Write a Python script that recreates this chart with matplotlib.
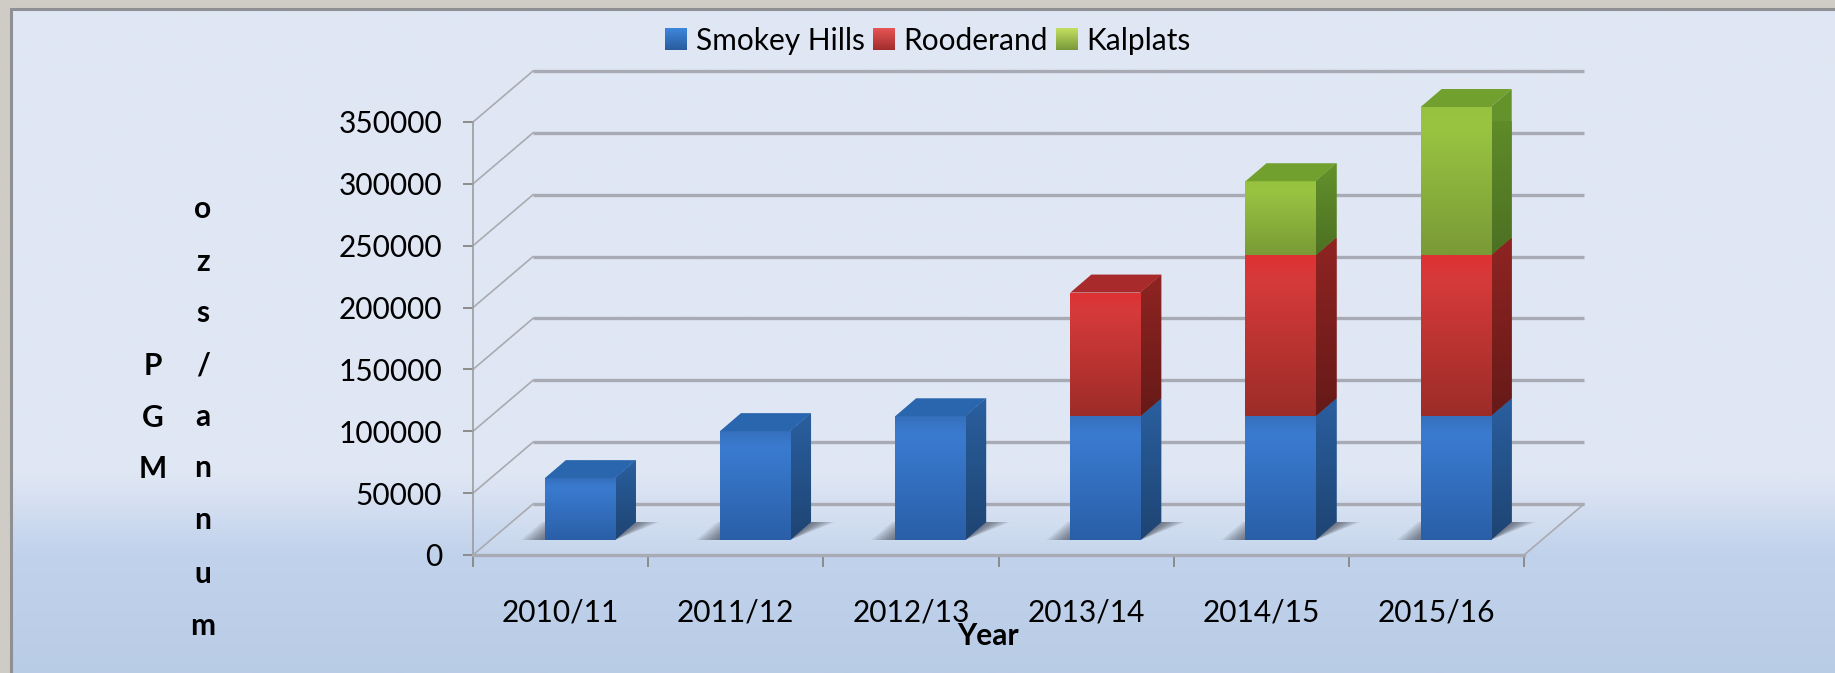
import numpy as np
import matplotlib
matplotlib.use("Agg")
import matplotlib.pyplot as plt
from matplotlib.colors import to_rgb
from matplotlib.patches import Polygon, Patch

years = ["2010/11", "2011/12", "2012/13", "2013/14", "2014/15", "2015/16"]
smokey_hills = [50000, 88000, 100000, 100000, 100000, 100000]
rooderand = [0, 0, 0, 100000, 130000, 130000]
kalplats = [0, 0, 0, 0, 60000, 120000]
y_ticks = [0, 50000, 100000, 150000, 200000, 250000, 300000, 350000]

W, H = 1835, 673
# plot box of the front plane, in pixels
LEFT, RIGHT, TOP, BOTTOM = 473, 1524, 122, 555
PX_X = (RIGHT - LEFT) / len(years)
PX_Y = (BOTTOM - TOP) / 350000

# how far the 3d effect moves things, in pixels
WALL_DX, WALL_DY = 60, 51
BAR_DX, BAR_DY = 21, 18
BASE_DY = 15
BAR_SHIFT = 0.11
BAR_WIDTH = 0.4
TEXT_SIZE = 21.5

series = [
    ("Smokey Hills", smokey_hills, ["#3670BD", "#3A7BD0", "#2A5FA8"], "#2966AE", ["#2A5F9F", "#1E4472"], ["#3E86DC", "#2A5C9E"]),
    ("Rooderand", rooderand, ["#DE3133", "#D63A3A", "#9C2C28"], "#A92A2A", ["#8F2422", "#661A18"], ["#E85555", "#A02E2C"]),
    ("Kalplats", kalplats, ["#96C240", "#98C441", "#7A9A36"], "#72A02E", ["#64922B", "#4C7022"], ["#C4E060", "#78993A"]),
]


def shift(x, y, dx=0, dy=0):
    return x + dx / PX_X, y + dy / PX_Y


def gradient(colors, stops=None, n=128):
    rgb = np.array([to_rgb(c) for c in colors])
    if stops is None:
        stops = np.linspace(0, 1, len(colors))
    t = np.linspace(0, 1, n)
    return np.stack([np.interp(t, stops, rgb[:, i]) for i in range(3)], axis=1)[:, None, :]


def fill_gradient(ax, patch, colors, stops=None, zorder=3):
    ext = patch.get_path().transformed(patch.get_patch_transform()).get_extents()
    im = ax.imshow(gradient(colors, stops), extent=[ext.x0, ext.x1, ext.y0, ext.y1], origin="upper",
                   aspect="auto", zorder=zorder, interpolation="bilinear")
    im.set_clip_box(None)
    im.set_clip_path(patch)


plt.rcParams["font.family"] = ["Lato", "DejaVu Sans"]
fig = plt.figure(figsize=(W / 100, H / 100), dpi=100)

# page background and the panel
bg = fig.add_axes([0, 0, 1, 1], zorder=0)
bg.axis("off")
fig.patch.set_facecolor("#CFCCC6")
panel = gradient(["#E0E7F4", "#E0E7F4", "#C1D2EC", "#B9CCE6"], [0, 0.70, 0.82, 1], n=300)
bg.imshow(panel, extent=[12, W, H, 10], aspect="auto", zorder=1, interpolation="bilinear")
bg.plot([11, 11, W], [H, 9, 9], color="#8F9094", lw=2.2, zorder=2, solid_joinstyle="miter")
bg.set_xlim(0, W)
bg.set_ylim(H, 0)

ax = fig.add_axes([LEFT / W, 1 - BOTTOM / H, (RIGHT - LEFT) / W, (BOTTOM - TOP) / H], zorder=1)
ax.patch.set_alpha(0)
n = len(years)

# floor
floor = Polygon([(0, 0), (n, 0), shift(n, 0, WALL_DX, WALL_DY), shift(0, 0, WALL_DX, WALL_DY)],
                closed=True, facecolor="#FFFFFF", alpha=0.1, edgecolor="none", zorder=1, clip_on=False)
ax.add_patch(floor)

# gridlines: back wall and left wall
for v in y_ticks:
    bx, by = shift(0, v, WALL_DX, WALL_DY)
    ex, ey = shift(n, v, WALL_DX, WALL_DY)
    ax.plot([bx, ex], [by, ey], color="#A8ABB3", lw=2.4, zorder=1.5, clip_on=False, solid_capstyle="butt")
    ax.plot([0, bx], [v, by], color="#A9ABB0", lw=1.2, zorder=1.5, clip_on=False)
fx, fy = shift(n, 0, WALL_DX, WALL_DY)
ax.plot([n, fx], [0, fy], color="#A9ABB0", lw=1.2, zorder=1.5, clip_on=False)

# bars
centers = np.arange(n) + 0.5 + BAR_SHIFT
base = BASE_DY / PX_Y
half = BAR_WIDTH / 2

# shadows on the floor, stacked thin layers so the edges fade
for c in centers:
    for grow in range(24, 0, -2):
        g = grow / PX_X
        sh = Polygon([(c - half - g, base), (c + half, base), shift(c + half, base, BAR_DX + grow, BAR_DY),
                      shift(c - half - g, base, BAR_DX, BAR_DY)],
                     closed=True, facecolor="#3A3F4A", alpha=0.075, edgecolor="none", zorder=2, clip_on=False)
        ax.add_patch(sh)

totals = np.sum([smokey_hills, rooderand, kalplats], axis=0)
bottoms = np.zeros(n)
handles = []
for name, values, front, top, side, swatch in series:
    values = np.array(values, dtype=float)
    bars = ax.bar(centers, values, BAR_WIDTH, bottom=bottoms + base, color=front[1], clip_on=False, zorder=3, linewidth=0)
    for c, v, b, total, rect in zip(centers, values, bottoms + base, totals, bars):
        if v == 0:
            rect.set_visible(False)
            continue
        fill_gradient(ax, rect, front, [0, 0.15, 1], zorder=3.1)
        right = c + half
        side_poly = Polygon([(right, b), shift(right, b, BAR_DX, BAR_DY), shift(right, b + v, BAR_DX, BAR_DY), (right, b + v)],
                            closed=True, facecolor=side[0], edgecolor="none", zorder=3, clip_on=False)
        ax.add_patch(side_poly)
        fill_gradient(ax, side_poly, side, zorder=3.05)
        # only the top of a stack shows its lid
        if b + v - base == total:
            top_poly = Polygon([(c - half, b + v), (right, b + v), shift(right, b + v, BAR_DX, BAR_DY),
                                shift(c - half, b + v, BAR_DX, BAR_DY)],
                               closed=True, facecolor=top, edgecolor="none", zorder=3.2, clip_on=False)
            ax.add_patch(top_poly)
    bottoms = bottoms + values
    handles.append(Patch(facecolor=front[1], label=name))

ax.set_xlim(0, n)
ax.set_ylim(0, 350000)

for s in ["top", "right"]:
    ax.spines[s].set_visible(False)
ax.spines["left"].set_color("#9A9CA0")
ax.spines["left"].set_linewidth(1.2)
ax.spines["bottom"].set_color("#A8ABB3")
ax.spines["bottom"].set_linewidth(2.4)
ax.spines["bottom"].set_zorder(2.5)

ax.set_yticks(y_ticks)
ax.set_yticklabels([str(v) for v in y_ticks])
ax.tick_params(axis="y", length=7.2, width=1.4, color="#8C8C8C", pad=15, labelsize=TEXT_SIZE)
ax.set_xticks(np.arange(n + 1))
ax.set_xticklabels([""] * (n + 1))
ax.set_xticks(np.arange(n) + 0.5, years, minor=True)
ax.tick_params(axis="x", which="major", length=8.6, width=1.4, color="#8C8C8C")
ax.tick_params(axis="x", which="minor", length=0, pad=31, labelsize=TEXT_SIZE)
ax.set_xlabel("Year", fontsize=TEXT_SIZE, fontweight="bold", x=(988 - LEFT) / (RIGHT - LEFT), labelpad=-3)

# axis title is written one letter per line in two columns
for ch, yy in zip("PGM", [366, 418, 469]):
    bg.text(153, yy, ch, fontsize=TEXT_SIZE, fontweight="bold", ha="center", va="center", zorder=5)
for ch, yy in zip("ozs/annum", [209, 262, 313, 365, 417, 468, 520, 574, 626]):
    bg.text(203, yy, ch, fontsize=TEXT_SIZE, fontweight="bold", ha="center", va="center", zorder=5)

leg = fig.legend(handles=handles, loc="center", bbox_to_anchor=(928 / W, 1 - 41 / H), ncol=3, frameon=False,
                 fontsize=TEXT_SIZE, handlelength=0.72, handleheight=0.72, handletextpad=0.32, columnspacing=0.25,
                 borderpad=0, borderaxespad=0)

# swap the flat legend keys for gradient ones
fig.canvas.draw()
for h, s in zip(leg.legend_handles, series):
    box = h.get_window_extent()
    bg.imshow(gradient(s[5]), extent=[box.x0, box.x1, H - box.y0, H - box.y1], aspect="auto", zorder=3,
              interpolation="bilinear")
    h.set_alpha(0)
bg.set_xlim(0, W)
bg.set_ylim(H, 0)

fig.savefig("out.png", dpi=100)
